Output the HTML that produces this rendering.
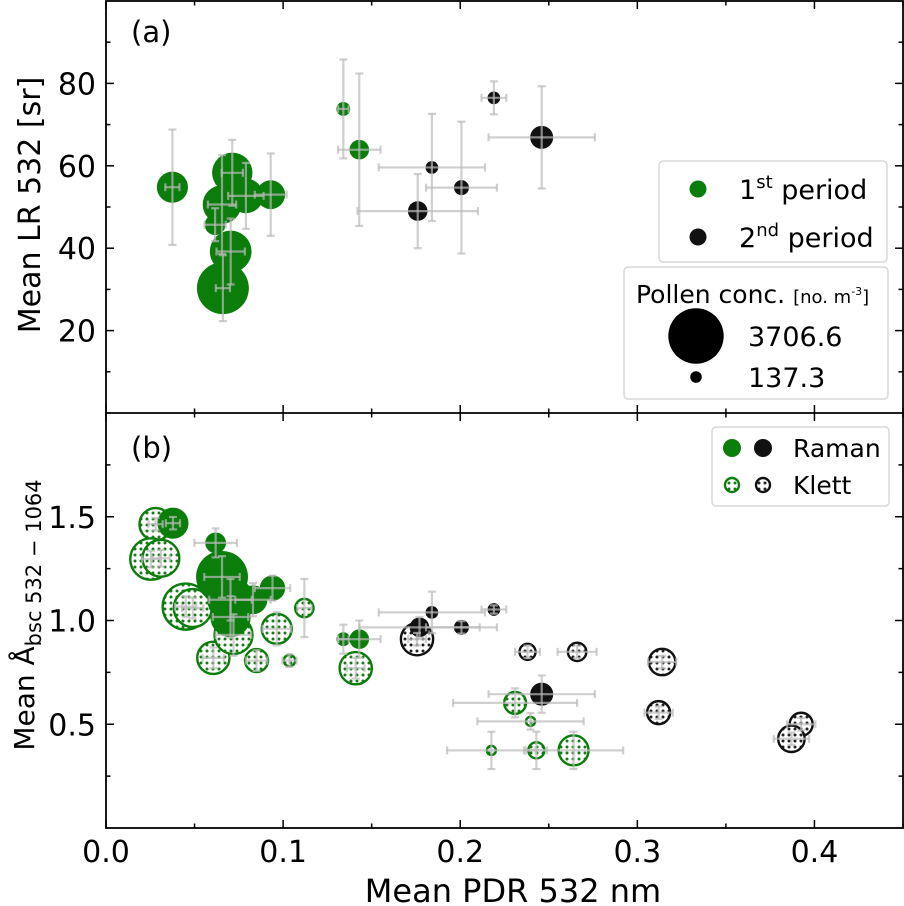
<!DOCTYPE html>
<html><head><meta charset="utf-8">
<style>
html,body{margin:0;padding:0;background:#fff;}
svg{display:block;font-family:"DejaVu Sans","Liberation Sans",sans-serif;}
</style></head>
<body>
<svg id="chart" width="904" height="906" viewBox="0 0 904 906" xmlns="http://www.w3.org/2000/svg">
<defs>
<pattern id="dotsG" patternUnits="userSpaceOnUse" width="6" height="6"><rect width="6" height="6" fill="#fff"/><circle cx="3" cy="3" r="1.5" fill="#1a7a1a"/></pattern>
<pattern id="dotsK" patternUnits="userSpaceOnUse" width="6" height="6"><rect width="6" height="6" fill="#fff"/><circle cx="3" cy="3" r="1.5" fill="#222"/></pattern>
</defs>
<g id="panelA"></g>
<g id="panelB"></g>
<g id="frame"></g>
</svg>
<script>
// ---------- Panel (a) data: LR vs PDR ----------
const aGreenX = [0.0375,0.0713,0.0655,0.079,0.093,0.0616,0.0704,0.066,0.134,0.143];
const aGreenY = [54.8,58.3,50.6,52.7,53.0,45.7,39.2,30.3,73.8,63.9];
const aGreenC = [1173,1971,1800,1448,1005,521,2100,3258,232,465];
const aGreenXerr = [0.004,0.006,0.008,0.01,0.009,0.006,0.008,0.004,0.003,0.012];
const aGreenYerr = [14,8,12,8,10,4,8,8,12,18.5];
const aBlackX = [0.219,0.246,0.184,0.2007,0.176];
const aBlackY = [76.5,66.9,59.6,54.7,49.0];
const aBlackC = [195,643,195,272,465];
const aBlackXerr = [0.007,0.03,0.03,0.02,0.034];
const aBlackYerr = [4,12.4,13,16,9];
const aYTicks = [20,40,60,80];
const aYTickLabels = ["20","40","60","80"];

// ---------- Panel (b) data: Angstrom vs PDR ----------
const bRamanGX = [0.0378,0.0619,0.0655,0.0703,0.0703,0.083,0.094,0.134,0.143];
const bRamanGY = [1.469,1.374,1.21,1.10,1.017,1.10,1.156,0.91,0.91];
const bRamanGC = [1173,521,3258,2574,1971,1005,779,232,465];
const bRamanGXerr = [0.004,0.012,0.01,0.012,0.01,0.01,0.01,0.003,0.012];
const bRamanGYerr = [0.03,0.07,0.1,0.1,0.1,0.08,0.06,0.07,0.09];
const bRamanKX = [0.219,0.184,0.2007,0.177,0.246];
const bRamanKY = [1.053,1.039,0.967,0.967,0.645];
const bRamanKC = [195,195,272,465,643];
const bRamanKXerr = [0.007,0.03,0.02,0.034,0.03];
const bRamanKYerr = [0.02,0.1,0.03,0.05,0.09];
const bKlettGX = [0.028,0.0254,0.031,0.045,0.049,0.0606,0.072,0.0964,0.085,0.1036,0.112,0.141,0.231,0.2397,0.2176,0.243,0.264];
const bKlettGY = [1.464,1.296,1.30,1.067,1.06,0.82,0.93,0.96,0.807,0.807,1.06,0.77,0.603,0.514,0.374,0.374,0.374];
const bKlettGC = [1448,2323,1860,2838,1971,1448,1971,1261,779,232,521,1448,709,161,161,412,1261];
const bKlettGXerr = [0.004,0.005,0.005,0.006,0.006,0.006,0.01,0.008,0.006,0.004,0.004,0.005,0.035,0.03,0.025,0.006,0.028];
const bKlettGYerr = [0.03,0.04,0.04,0.05,0.05,0.05,0.1,0.08,0.05,0.03,0.14,0.05,0.07,0.04,0.09,0.09,0.09];
const bKlettKX = [0.1756,0.238,0.266,0.314,0.312,0.3925,0.387];
const bKlettKY = [0.91,0.849,0.849,0.80,0.556,0.50,0.43];
const bKlettKC = [1448,412,521,1005,779,779,1005];
const bKlettKXerr = [0.005,0.007,0.011,0.008,0.008,0.008,0.01];
const bKlettKYerr = [0.03,0.03,0.03,0.03,0.03,0.03,0.03];
const bYTicks = [0.5,1.0,1.5];
const bYTickLabels = ["0.5","1.0","1.5"];
const xTicks = [0.0,0.1,0.2,0.3,0.4];
const xTickLabels = ["0.0","0.1","0.2","0.3","0.4"];

const NS = "http://www.w3.org/2000/svg";
const L = 106, R = 903;
const A_TOP = 1, A_BOT = 413, B_TOP = 413, B_BOT = 828;
const GREEN = "#0a7d0a", BLACK = "#111";
function sx(v){ return L + v*(R-L)/0.45; }
function syA(v){ return A_BOT - v*(A_BOT-A_TOP)/100; }
function syB(v){ return B_BOT - v*(B_BOT-B_TOP)/2; }
function rad(c){ return 27.7*Math.sqrt(c/3706.6); }
function mk(tag, attrs, parent){
  const e = document.createElementNS(NS, tag);
  for (const k in attrs) e.setAttribute(k, attrs[k]);
  parent.appendChild(e);
  return e;
}
const gA = document.getElementById('panelA');
const gB = document.getElementById('panelB');
const frame = document.getElementById('frame');

function errbar(g, x, y, xe, ye, sy){
  const grp = mk('g', {stroke:'#bbb','stroke-width':2.2,'stroke-opacity':0.7,fill:'none'}, g);
  
  
  const cx = sx(x), cy = sy(y), x0 = sx(x-xe), x1 = sx(x+xe), y0 = sy(y-ye), y1 = sy(y+ye);
  mk('line', {x1:x0,y1:cy,x2:x1,y2:cy}, grp);
  mk('line', {x1:cx,y1:y0,x2:cx,y2:y1}, grp);
  mk('line', {x1:x0,y1:cy-4,x2:x0,y2:cy+4}, grp);
  mk('line', {x1:x1,y1:cy-4,x2:x1,y2:cy+4}, grp);
  mk('line', {x1:cx-4,y1:y0,x2:cx+4,y2:y0}, grp);
  mk('line', {x1:cx-4,y1:y1,x2:cx+4,y2:y1}, grp);
}
function filledSeries(g, X, Y, C, color, sy, name){
  for (let i=0;i<X.length;i++){
    const c = mk('circle', {cx:sx(X[i]), cy:sy(Y[i]), r:rad(C[i]), fill:color}, g);
    
    
  }
}
function klettSeries(g, X, Y, C, color, pat, sy, name){
  for (let i=0;i<X.length;i++){
    const c = mk('circle', {cx:sx(X[i]), cy:sy(Y[i]), r:Math.max(rad(C[i])-1.2,3), fill:'url(#'+pat+')', stroke:color, 'stroke-width':2.4}, g);
    
    
  }
}
function errSeries(g, X, Y, XE, YE, sy){
  for (let i=0;i<X.length;i++) errbar(g, X[i], Y[i], XE[i], YE[i], sy);
}

filledSeries(gA, aGreenX, aGreenY, aGreenC, GREEN, syA, 'first-period-point');
filledSeries(gA, aBlackX, aBlackY, aBlackC, BLACK, syA, 'second-period-point');
errSeries(gA, aGreenX, aGreenY, aGreenXerr, aGreenYerr, syA);
errSeries(gA, aBlackX, aBlackY, aBlackXerr, aBlackYerr, syA);

klettSeries(gB, bKlettGX, bKlettGY, bKlettGC, GREEN, 'dotsG', syB, 'klett-first-period-point');
klettSeries(gB, bKlettKX, bKlettKY, bKlettKC, BLACK, 'dotsK', syB, 'klett-second-period-point');
filledSeries(gB, bRamanGX, bRamanGY, bRamanGC, GREEN, syB, 'raman-first-period-point');
filledSeries(gB, bRamanKX, bRamanKY, bRamanKC, BLACK, syB, 'raman-second-period-point');
errSeries(gB, bKlettGX, bKlettGY, bKlettGXerr, bKlettGYerr, syB);
errSeries(gB, bKlettKX, bKlettKY, bKlettKXerr, bKlettKYerr, syB);
errSeries(gB, bRamanGX, bRamanGY, bRamanGXerr, bRamanGYerr, syB);
errSeries(gB, bRamanKX, bRamanKY, bRamanKXerr, bRamanKYerr, syB);

function tickLine(x1,y1,x2,y2){ mk('line',{x1:x1,y1:y1,x2:x2,y2:y2,stroke:'#000','stroke-width':1.5},frame); }
mk('rect',{x:L,y:A_TOP,width:R-L,height:B_BOT-A_TOP,fill:'none',stroke:'#000','stroke-width':1.8},frame);
mk('line',{x1:L,y1:A_BOT,x2:R,y2:A_BOT,stroke:'#000','stroke-width':1.8},frame);
function xTickSet(top, bot){
  for (let v=0; v<=0.45+1e-9; v+=0.05){
    const major = Math.abs(Math.round(v*10)-v*10)<1e-6;
    const len = major?8:4.5, x = sx(v);
    tickLine(x, bot, x, bot-len); tickLine(x, top, x, top+len);
  }
}
xTickSet(A_TOP, A_BOT); xTickSet(B_TOP, B_BOT);
for (let v=10; v<100; v+=10){
  const major = v%20===0, len = major?8:4.5, y = syA(v);
  tickLine(L,y,L+len,y); tickLine(R,y,R-len,y);
}
for (let v=0.25; v<2; v+=0.25){
  const major = Math.abs(v*2-Math.round(v*2))<1e-6, len = major?8:4.5, y = syB(v);
  tickLine(L,y,L+len,y); tickLine(R,y,R-len,y);
}
function txt(s, attrs, parent){
  const t = mk('text', attrs, parent);
  t.textContent = s;
  return t;
}
for (let i=0;i<aYTicks.length;i++){
  const t = txt(aYTickLabels[i], {x:L-10,y:syA(aYTicks[i])+11,'text-anchor':'end','font-size':30}, frame);
  
  
}
for (let i=0;i<bYTicks.length;i++){
  const t = txt(bYTickLabels[i], {x:L-10,y:syB(bYTicks[i])+11,'text-anchor':'end','font-size':30}, frame);
  
  
}
for (let i=0;i<xTicks.length;i++){
  const t = txt(xTickLabels[i], {x:sx(xTicks[i]),y:B_BOT+34,'text-anchor':'middle','font-size':30}, frame);
  
  
}
</script>
<script>
(function(){
const svg = document.getElementById('chart');
const NS = "http://www.w3.org/2000/svg";
const g = document.createElementNS(NS,'g');
g.innerHTML = `
<text x="131" y="42" font-size="29">(a)</text>
<text x="131" y="458" font-size="29">(b)</text>
<text transform="translate(40,205) rotate(-90)" text-anchor="middle" font-size="30">Mean LR 532 [sr]</text>
<text transform="translate(34,615) rotate(-90)" text-anchor="middle" font-size="28">Mean Å<tspan font-size="21" dy="7">bsc 532 − 1064</tspan></text>
<text x="513" y="902" text-anchor="middle" font-size="32">Mean PDR 532 nm</text>
<g>
 <rect x="659" y="161" width="228" height="101" rx="4" fill="#fff" fill-opacity="0.85" stroke="#d8d8d8" stroke-width="1.5"/>
 <circle cx="698" cy="189" r="8.5" fill="#0a7d0a"/>
 <text x="739" y="199" font-size="27">1<tspan font-size="18" dy="-11">st</tspan><tspan dy="11"> period</tspan></text>
 <circle cx="698" cy="237" r="8.5" fill="#111"/>
 <text x="739" y="247" font-size="27">2<tspan font-size="18" dy="-11">nd</tspan><tspan dy="11"> period</tspan></text>
</g>
<g>
 <rect x="624" y="267" width="264" height="132" rx="4" fill="#fff" fill-opacity="0.85" stroke="#d8d8d8" stroke-width="1.5"/>
 <text x="636" y="303" font-size="25">Pollen conc. <tspan font-size="18">[no. m</tspan><tspan font-size="11" dy="-8">-3</tspan><tspan font-size="18" dy="8">]</tspan></text>
 <circle cx="696" cy="336" r="27.7" fill="#000"/>
 <text x="748" y="346" font-size="27">3706.6</text>
 <circle cx="696" cy="377" r="5.8" fill="#000"/>
 <text x="748" y="387" font-size="27">137.3</text>
</g>
<g>
 <rect x="712" y="427" width="177" height="79" rx="4" fill="#fff" fill-opacity="0.85" stroke="#d8d8d8" stroke-width="1.5"/>
 <circle cx="732" cy="448" r="9" fill="#0a7d0a"/>
 <circle cx="763" cy="448" r="9" fill="#111"/>
 <text x="793" y="457" font-size="25">Raman</text>
 <circle cx="732" cy="485" r="7" fill="url(#dotsG)" stroke="#0a7d0a" stroke-width="2.4"/>
 <circle cx="763" cy="485" r="7" fill="url(#dotsK)" stroke="#111" stroke-width="2.4"/>
 <text x="793" y="494" font-size="25">Klett</text>
</g>`;
svg.appendChild(g);
})();
</script>
</body></html>
